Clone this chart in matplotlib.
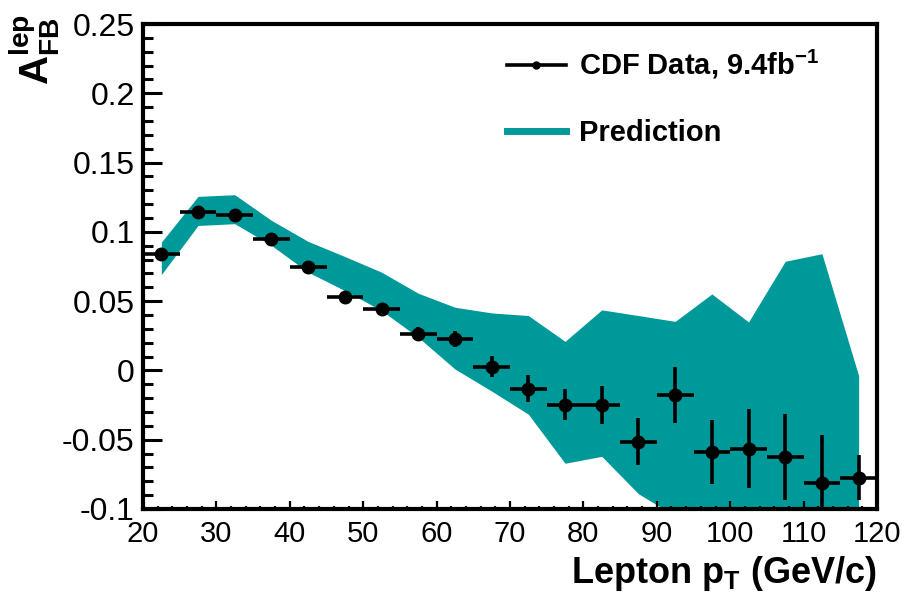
import numpy as np
import matplotlib
matplotlib.use('Agg')
import matplotlib.pyplot as plt
from matplotlib.lines import Line2D
from matplotlib.ticker import MultipleLocator

plt.rcParams['font.family'] = ['Liberation Sans', 'DejaVu Sans']
plt.rcParams['mathtext.fontset'] = 'custom'
plt.rcParams['mathtext.rm'] = 'Liberation Sans'
plt.rcParams['mathtext.bf'] = 'Liberation Sans:bold'

# --- data (bin centres in lepton pT, GeV/c) ---
pt = [22.5, 27.5, 32.5, 37.5, 42.5, 47.5, 52.5, 57.5, 62.5, 67.5,
      72.5, 77.5, 82.5, 87.5, 92.5, 97.5, 102.5, 107.5, 112.5, 117.5]
pt_halfwidth = 2.5

afb_data = [0.0842, 0.1143, 0.1124, 0.0950, 0.0748, 0.0533, 0.0441, 0.0266, 0.0227, 0.0027,
            -0.0132, -0.0246, -0.0250, -0.0513, -0.0177, -0.0588, -0.0564, -0.0626, -0.0812, -0.0774]
afb_err = [0.002, 0.002, 0.002, 0.002, 0.002, 0.002, 0.003, 0.0048, 0.006, 0.0076,
           0.0096, 0.0115, 0.014, 0.0169, 0.0205, 0.0233, 0.0286, 0.0309, 0.0347, 0.0163]

pred_hi = [0.0926, 0.1256, 0.1268, 0.1083, 0.0931, 0.0822, 0.0709, 0.0557, 0.0456, 0.0415,
           0.0396, 0.0210, 0.0437, 0.0396, 0.0354, 0.0552, 0.0350, 0.0788, 0.0842, -0.0038]
pred_lo = [0.0692, 0.1046, 0.1059, 0.0902, 0.0709, 0.0576, 0.0432, 0.0239, 0.0010, -0.0149,
           -0.0316, -0.0670, -0.0620, -0.0890, -0.1050, -0.1300, -0.1300, -0.1300, -0.1300, -0.1300]

teal = '#009999'

fig = plt.figure(figsize=(9.06, 5.93), dpi=100)
ax = fig.add_axes([143 / 906, 1 - 509 / 593, (877 - 143) / 906, (509 - 24) / 593])

ax.fill_between(pt, pred_lo, pred_hi, color=teal, linewidth=0, zorder=1)
ax.errorbar(pt, afb_data, yerr=afb_err, xerr=pt_halfwidth, fmt='o', color='black',
            markersize=9, elinewidth=2.6, capsize=0, zorder=3)

ax.set_xlim(20, 120)
ax.set_ylim(-0.1, 0.25)
ax.xaxis.set_major_locator(MultipleLocator(10))
ax.xaxis.set_minor_locator(MultipleLocator(2))
ax.yaxis.set_minor_locator(MultipleLocator(0.01))
ax.set_yticks([-0.1, -0.05, 0, 0.05, 0.1, 0.15, 0.2, 0.25])
ax.set_yticklabels(['-0.1', '-0.05', '0', '0.05', '0.1', '0.15', '0.2', '0.25'])

ax.tick_params(axis='y', which='major', direction='in', length=14, width=2.2,
               labelsize=23, pad=6, right=False)
ax.tick_params(axis='y', which='minor', direction='in', length=7, width=2.2, right=False)
ax.tick_params(axis='x', which='major', direction='in', length=6, width=1.6,
               labelsize=21, pad=8, top=False)
ax.tick_params(axis='x', which='minor', direction='in', length=2.5, width=1.6, top=False)
for s in ax.spines.values():
    s.set_linewidth(3)

ax.set_xlabel(r'Lepton p$_\mathbf{T}$ (GeV/c)', fontsize=26, fontweight='bold',
              loc='right', labelpad=4)
fig.text(34 / 906, 1 - 14 / 593, r'$\mathbf{A}_{\mathbf{FB}}^{\mathbf{lep}}$',
         rotation=90, ha='center', va='top', fontsize=29)

handles = [Line2D([], [], color='black', linewidth=2.6, marker='o', markersize=5),
           Line2D([], [], color=teal, linewidth=5)]
labels = [r'CDF Data, 9.4fb$^\mathbf{-1}$', 'Prediction']
leg = ax.legend(handles, labels, loc='upper left', bbox_to_anchor=(481 / 906, 1 - 22 / 593),
                bbox_transform=fig.transFigure, frameon=False, handlelength=2.0,
                handletextpad=0.45, labelspacing=1.3, prop={'size': 21, 'weight': 'bold'})

fig.savefig('out.png', dpi=100)
